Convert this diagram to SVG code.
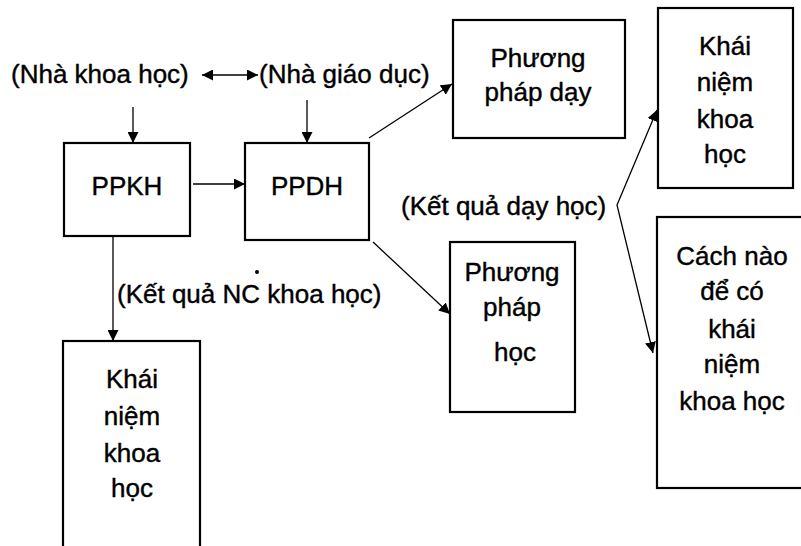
<svg xmlns="http://www.w3.org/2000/svg" width="801" height="546" viewBox="0 0 801 546">
<style>
.box{fill:none;stroke:#000;stroke-width:2.2}
.t{font-family:"Liberation Sans",Arial,sans-serif;font-size:26px;fill:#000;stroke:#000;stroke-width:0.4}
.c{text-anchor:middle}
.ln{fill:none;stroke:#000;stroke-width:1.3}
</style>
<defs>
<marker id="ah" viewBox="0 0 10 10" refX="10" refY="5" markerWidth="11" markerHeight="11" markerUnits="userSpaceOnUse" orient="auto-start-reverse">
<path d="M0,0 L10,5 L0,10 z" fill="#000"/>
</marker>
</defs>
<rect width="801" height="546" fill="#fff"/>
<g id="connectors">
<line class="ln" x1="202" y1="75" x2="258" y2="75" marker-start="url(#ah)" marker-end="url(#ah)"/>
<line class="ln" x1="133" y1="107" x2="133" y2="143" marker-end="url(#ah)"/>
<line class="ln" x1="307" y1="100" x2="307" y2="143" marker-end="url(#ah)"/>
<line class="ln" x1="193" y1="184" x2="245" y2="184" marker-end="url(#ah)"/>
<line class="ln" x1="369" y1="138" x2="452" y2="84" marker-end="url(#ah)"/>
<line class="ln" x1="373" y1="242" x2="450" y2="314" marker-end="url(#ah)"/>
<line class="ln" x1="113" y1="237" x2="113" y2="341" marker-end="url(#ah)"/>
<polyline class="ln" points="657,110 617,205 653,353" marker-start="url(#ah)" marker-end="url(#ah)"/>
<circle cx="257" cy="272" r="2" fill="#000"/>
</g>
<g id="label-nha-khoa-hoc"><text class="t" x="11" y="83">(Nhà khoa học)</text></g>
<g id="label-nha-giao-duc"><text class="t" x="259" y="83">(Nhà giáo dục)</text></g>
<g id="label-ket-qua-day-hoc"><text class="t" x="401" y="215">(Kết quả dạy học)</text></g>
<g id="label-ket-qua-nc"><text class="t" x="117" y="303">(Kết quả NC khoa học)</text></g>
<g id="ppkh"><rect class="box" x="64" y="143" width="126" height="93"/><text class="t c" x="127" y="195">PPKH</text></g>
<g id="ppdh"><rect class="box" x="245" y="143" width="124" height="97"/><text class="t c" x="307" y="195">PPDH</text></g>
<g id="phuong-phap-day"><rect class="box" x="453" y="20" width="172" height="118"/><text class="t c" x="538" y="67">Phương</text><text class="t c" x="538" y="101">pháp dạy</text></g>
<g id="khai-niem-top"><rect class="box" x="658" y="8" width="135" height="180"/><text class="t c" x="725" y="55">Khái</text><text class="t c" x="725" y="91">niệm</text><text class="t c" x="725" y="128">khoa</text><text class="t c" x="725" y="163">học</text></g>
<g id="phuong-phap-hoc"><rect class="box" x="450" y="242" width="125" height="170"/><text class="t c" x="512" y="281">Phương</text><text class="t c" x="512" y="316">pháp</text><text class="t c" x="515" y="361">học</text></g>
<g id="cach-nao"><rect class="box" x="657" y="217" width="160" height="271"/><text class="t c" x="732" y="265">Cách nào</text><text class="t c" x="732" y="300">để có</text><text class="t c" x="732" y="338">khái</text><text class="t c" x="732" y="373">niệm</text><text class="t c" x="732" y="410">khoa học</text></g>
<g id="khai-niem-bottom"><rect class="box" x="63" y="341" width="137" height="230"/><text class="t c" x="132" y="388">Khái</text><text class="t c" x="132" y="425">niệm</text><text class="t c" x="132" y="462">khoa</text><text class="t c" x="132" y="497">học</text></g>
</svg>
